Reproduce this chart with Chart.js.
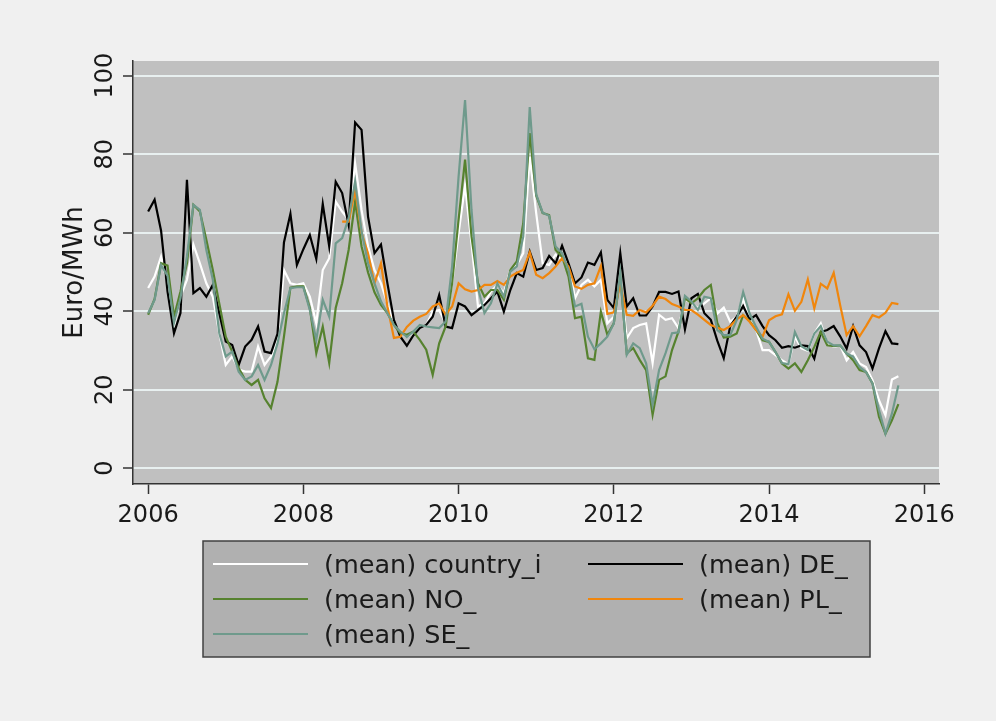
<!DOCTYPE html>
<html>
<head>
<meta charset="utf-8">
<script src="https://cdn.jsdelivr.net/npm/chart.js@4.4.1/dist/chart.umd.min.js"></script>
<style>
  html, body { margin: 0; padding: 0; background: #f0f0f0; }
  canvas { display: block; }
</style>
</head>
<body>
<canvas id="c" width="996" height="721"></canvas>
<script>
// Monthly series, Jan 2006 .. Sep 2015 (117 months)
const startYear = 2006;
const nMonths = 117;
const seriesLabels = ['(mean) country_i', '(mean) DE_', '(mean) NO_', '(mean) PL_', '(mean) SE_'];
const xTickValues = [2006, 2008, 2010, 2012, 2014, 2016];
const yTickValues = [0, 20, 40, 60, 80, 100];
const yTitle = 'Euro/MWh';

const countryI = [45.9,48.8,53.9,47.1,36.1,43.7,48,57,52.2,47.1,43.7,34.4,26.3,28.5,25.1,24.6,24.6,31,26.3,28.5,
  32.7,50.5,47.1,46.7,47.1,43.7,36.9,50.5,53.5,67.9,65.4,63.3,77.7,65.8,56.5,50.5,47.1,42,36.9,34.4,
  33.5,34.4,35.7,36.5,39.9,40.3,36.9,47.1,59.9,72,57.3,41.2,42,45,46.7,44.6,50.5,51.8,54.8,79.4,
  65,52.2,51.8,54.4,53.1,52.2,43.3,46.7,48,46.3,48,36.9,38.6,48.8,33.1,35.7,36.5,36.9,26.8,39.1,
  37.8,38.2,35.7,43.1,42,40.8,42,43.3,39.4,40.9,37.3,38.6,43.2,37.7,35.2,30.1,30.1,28.8,27.5,26.5,
  33.5,30.5,29.9,34.3,36.9,31.8,30.9,31.3,27.5,29.6,26.7,25.8,22.4,17.3,13.5,22.6,23.4];

const DE = [65.4,68.4,60.5,45,34.4,39.5,73.5,44.6,45.9,43.7,46.7,39.5,32.3,31.4,26.3,31,32.7,36.1,29.7,29.3,
  34.2,57.5,64.8,51.8,55.8,59.4,53.3,67.3,56.5,73,70.1,62,88.1,86.2,64.1,54.8,57,47.1,37.8,33.5,
  31.2,33.8,35.7,36.5,38.6,44.1,36.1,35.7,42,41.2,39,40.3,41.6,43.3,45,39.9,45.4,49.7,48.8,55.2,
  50.5,51,54.1,52.2,56.7,52.2,47.1,48.6,52.4,51.8,55,42.9,40.8,54.8,41.2,43.3,38.9,38.9,41.2,44.9,
  44.9,44.4,45,35.4,43.3,44.4,39.5,37.8,32.5,28,36.2,38.6,41.3,37.9,39,36.2,33.9,32.6,30.7,31.1,
  30.7,31.3,31.1,27.9,34.7,35.2,36.2,33.6,30.5,36.2,31.3,29.6,25.4,30.5,34.9,31.8,31.6];

const NO = [39.1,43.1,52.2,51.6,38.6,45,52.2,67.1,65.4,58.2,50.5,42,33.5,29.7,25.5,22.5,21.2,22.5,17.8,15.3,
  22,33.5,46,46.3,46.3,40.8,29.3,36.1,26.8,40.8,47.1,55.6,67.9,56.5,49.9,44.8,41.6,39.5,36.5,34.4,
  34,34.8,32.7,30.2,23.8,31.8,36.1,47.1,63.3,78.6,59,47.1,43.7,45.4,45.4,42.9,50.5,52.7,62.4,85.4,
  69.5,65,64.5,55.6,53.9,48.8,38.2,38.6,28,27.6,39.9,34,36.9,48.8,29.3,30.6,27.6,25,13.6,22.5,
  23.4,30.1,34.8,43.3,42,43.3,45.4,46.7,37,33.3,33.5,34.3,39,37.5,35.2,32.6,32.2,29.6,26.7,25.4,
  26.7,24.5,27.5,30.9,34.7,31.3,31.1,31.3,29.2,27.5,25,24.5,21.6,13.1,8.8,12.2,16.3];

const PL = [null,null,null,null,null,null,null,null,null,null,null,null,null,null,null,null,null,null,null,null,
  null,null,null,null,null,null,null,null,null,null,62.8,62.8,70.9,60,54.7,47.1,52.2,41.2,33.2,33.5,
  36,37.6,38.6,39.3,41.2,42,39.1,41.2,47.1,45.6,45,45.4,46.7,46.7,47.7,46.7,48.8,49.8,50.5,55,
  49.3,48.4,49.7,51.4,53.5,51.4,46.3,45.7,46.7,47.1,51.5,39.3,39.7,47,39.1,38.8,40.3,39.7,41.4,43.7,
  43.1,41.8,41.2,40.3,40.3,39.1,37.8,36.5,35.8,35.2,36.2,37.9,39,37.3,35.2,33.5,37.7,38.7,39.2,44.3,
  40.1,42.4,48.1,40.7,47,45.8,49.8,41.5,33.9,36.2,33.6,36.2,39,38.4,39.6,42.1,41.8];

const SE = [39.5,42.9,51.8,49,37,43.3,54,67.1,65.8,55.6,48,34.4,28.5,29.7,24.6,22.5,23.4,26.3,22.5,26.3,
  31.8,39.5,45.9,46.1,46.1,40.3,32.7,42.9,38.6,57.3,58.6,63.7,73,60.3,52.2,47.1,42.5,39.5,36.5,34.8,
  33.4,34.8,36.5,36.1,35.9,35.7,37.4,51.4,74.3,93.8,65.8,45.9,39.5,42,47.1,43.7,50.1,51.4,59,92,
  69.8,65.1,64.3,56.5,54.8,50.5,41.2,41.9,33.5,30.3,31.8,33.5,36.9,49.7,28.9,31.8,30.6,26.7,16.1,25,
  29.3,34.4,34.6,43.9,42.5,40.3,43.7,43.3,35.2,33.9,33.9,37.7,44.9,39.4,36,33,32.2,29.6,26.8,26.5,
  34.7,31.1,30.1,34.3,36.2,32.2,31.3,31.3,29.2,28.4,25.8,24.5,21.6,14.8,8.8,13.9,21.1];

const seriesValues = [countryI, DE, NO, PL, SE];
const seriesColors = ['#ffffff', '#000000', '#56822f', '#f0860d', '#6f9a8c'];

const FONT = 'DejaVu Sans';
const monthX = Array.from({length: nMonths}, (_, i) => startYear + i / 12);

const datasets = seriesValues.map((vals, k) => ({
  label: seriesLabels[k],
  data: vals.map((v, i) => ({x: monthX[i], y: v})),
  borderColor: seriesColors[k],
  backgroundColor: seriesColors[k],
  borderWidth: 2.2,
  pointRadius: 0,
  tension: 0,
  spanGaps: false,
  order: seriesValues.length - 1 - k
}));

const bgPlugin = {
  id: 'bg',
  beforeDraw(chart) {
    const {ctx, chartArea: a} = chart;
    ctx.save();
    ctx.fillStyle = '#f0f0f0';
    ctx.fillRect(0, 0, chart.width, chart.height);
    ctx.fillStyle = '#c0c0c0';
    ctx.fillRect(a.left, a.top, a.right - a.left, a.bottom - a.top);
    ctx.restore();
  }
};

const yLabelPlugin = {
  id: 'ylabels',
  afterDraw(chart) {
    const s = chart.scales.y;
    const ctx = chart.ctx;
    ctx.save();
    ctx.font = '24px "' + FONT + '"';
    ctx.fillStyle = '#1a1a1a';
    ctx.textAlign = 'center';
    ctx.textBaseline = 'alphabetic';
    s.ticks.forEach(t => {
      const y = s.getPixelForValue(t.value);
      ctx.save();
      ctx.translate(112, y);
      ctx.rotate(-Math.PI / 2);
      ctx.fillText(String(t.value), 0, 0);
      ctx.restore();
    });
    ctx.restore();
  }
};

const legendPlugin = {
  id: 'boxlegend',
  afterDraw(chart) {
    const ctx = chart.ctx;
    const box = {x: 203, y: 541, w: 667, h: 116};
    ctx.save();
    ctx.fillStyle = '#b0b0b0';
    ctx.fillRect(box.x, box.y, box.w, box.h);
    ctx.strokeStyle = '#404040';
    ctx.lineWidth = 1.5;
    ctx.strokeRect(box.x, box.y, box.w, box.h);
    const colX = [213, 588];
    const rowY = [564, 599, 634];
    ctx.font = '25.5px "' + FONT + '"';
    ctx.textBaseline = 'middle';
    ctx.textAlign = 'left';
    chart.data.datasets.forEach((ds, i) => {
      const cx = colX[i % 2];
      const cy = rowY[Math.floor(i / 2)];
      ctx.strokeStyle = ds.borderColor;
      ctx.lineWidth = 2;
      ctx.beginPath();
      ctx.moveTo(cx, cy);
      ctx.lineTo(cx + 95, cy);
      ctx.stroke();
      ctx.fillStyle = '#1a1a1a';
      ctx.fillText(ds.label, cx + 111, cy + 2);
    });
    ctx.restore();
  }
};

new Chart(document.getElementById('c'), {
  type: 'line',
  data: {datasets},
  plugins: [bgPlugin, yLabelPlugin, legendPlugin],
  options: {
    responsive: false,
    animation: false,
    devicePixelRatio: 1,
    layout: {padding: {left: 0, top: 61, right: 57, bottom: 177}},
    plugins: {legend: {display: false}, tooltip: {enabled: false}},
    scales: {
      x: {
        type: 'linear',
        min: 2005.805,
        max: 2016.19,
        afterBuildTicks: s => { s.ticks = xTickValues.map(v => ({value: v})); },
        afterFit: s => { s.height = 60; },
        ticks: {
          font: {family: FONT, size: 24},
          color: '#1a1a1a',
          padding: 7,
          maxRotation: 0,
          minRotation: 0,
          callback: v => String(v)
        },
        grid: {drawOnChartArea: false, drawTicks: true, tickLength: 10, tickColor: '#333333', tickWidth: 1.5},
        border: {display: true, color: '#333333', width: 1.5}
      },
      y: {
        type: 'linear',
        min: -4.03,
        max: 103.75,
        afterBuildTicks: s => { s.ticks = yTickValues.map(v => ({value: v})); },
        afterFit: s => { s.width = 133; },
        ticks: {color: 'rgba(0,0,0,0)', font: {family: FONT, size: 24}},
        grid: {color: '#e8f0f0', lineWidth: 2, drawTicks: true, tickLength: 10, tickColor: '#333333', tickWidth: 1.5},
        border: {display: true, color: '#333333', width: 1.5},
        title: {display: true, text: yTitle, color: '#1a1a1a', font: {family: FONT, size: 26}, padding: {top: 60, bottom: 0}}
      }
    }
  }
});
</script>
</body>
</html>
